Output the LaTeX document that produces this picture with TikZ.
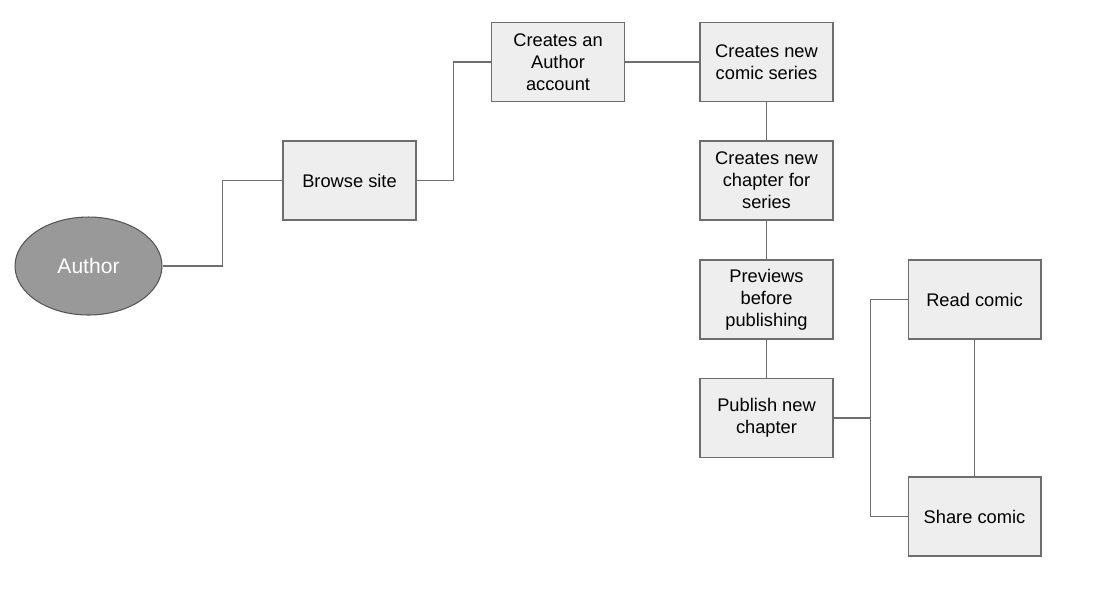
\documentclass[tikz,border=0pt]{standalone}
\usepackage{fontspec}
\setmainfont{Liberation Sans}
\usepackage{tikz}
\usetikzlibrary{calc}
\definecolor{flline}{RGB}{110,110,110}
\definecolor{flbox}{RGB}{238,238,238}
\definecolor{flactor}{RGB}{153,153,153}
\definecolor{flactorline}{RGB}{85,85,85}
\tikzset{
  flstep/.style={draw=flline, line width=.6pt, fill=flbox, align=center, inner sep=2pt,
    minimum width=2.66cm, minimum height=1.58cm, font=\fontsize{10.4}{12.5}\selectfont},
  flactor/.style={draw=flactorline, line width=.6pt, ellipse, fill=flactor, text=white,
    minimum width=2.94cm, minimum height=1.96cm, inner sep=0pt, font=\fontsize{12}{14}\selectfont},
  fllink/.style={draw=flline, line width=.65pt},
  elbow/.style={to path={-| ($(\tikztostart)!.5!(\tikztotarget)$) |- (\tikztotarget)}}
}
\usetikzlibrary{shapes.geometric}

\begin{document}
\begin{tikzpicture}[x=0.02cm, y=-0.02cm]
  \useasboundingbox (0,0) rectangle (1094,603);

  \node[flactor] (author) at (88.5,266) {Author};
  \node[flstep] (browse) at (349.5,180.5) {Browse site};
  \node[flstep] (account) at (558,62) {Creates an\\Author\\account};
  \node[flstep] (series) at (766.5,62) {Creates new\\comic series};
  \node[flstep] (chapter) at (766.5,180.5) {Creates new\\chapter for\\series};
  \node[flstep] (preview) at (766.5,299.5) {Previews\\before\\publishing};
  \node[flstep] (publish) at (766.5,418) {Publish new\\chapter};
  \node[flstep] (read) at (974.5,299.5) {Read comic};
  \node[flstep] (share) at (974.5,516.5) {Share comic};

  \draw[fllink] (author.east) to[elbow] (browse.west);
  \draw[fllink] (browse.east) to[elbow] (account.west);
  \draw[fllink] (account) -- (series);
  \draw[fllink] (series) -- (chapter);
  \draw[fllink] (chapter) -- (preview);
  \draw[fllink] (preview) -- (publish);
  \draw[fllink] (publish.east) to[elbow] (read.west);
  \draw[fllink] (publish.east) to[elbow] (share.west);
  \draw[fllink] (read) -- (share);
\end{tikzpicture}
\end{document}
